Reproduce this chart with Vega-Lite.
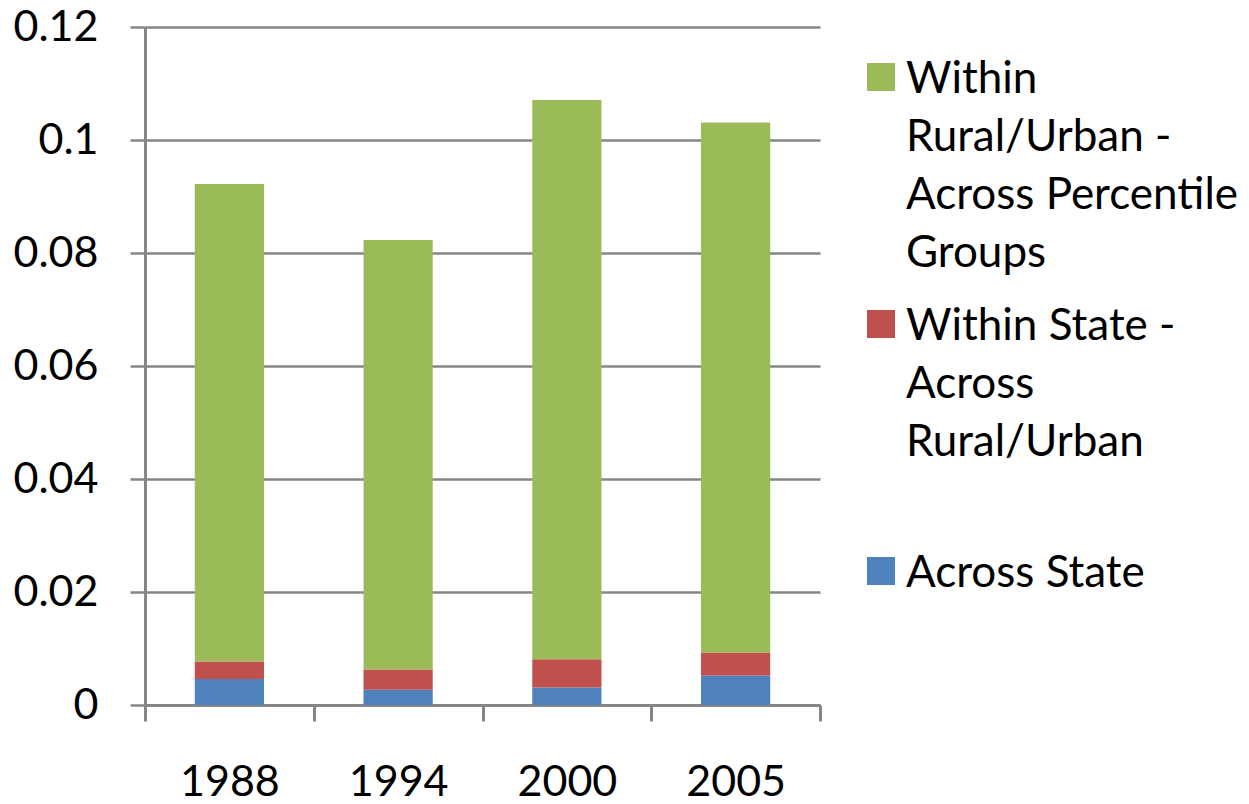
{
  "$schema": "https://vega.github.io/schema/vega-lite/v6.json",
  "width": 675,
  "height": 678,
  "autosize": {"type": "none"},
  "padding": {"left": 145, "top": 27, "right": 429, "bottom": 99},
  "background": "white",
  "config": {
    "view": {"stroke": null},
    "font": "Lato",
    "style": {"guide-label": {"lineHeight": 58}}
  },
  "data": {
    "values": [
      {"year": "1988", "series": "Across State", "k": 1, "value": 0.0046},
      {"year": "1988", "series": "Within State - Across Rural/Urban", "k": 2, "value": 0.0031},
      {"year": "1988", "series": "Within Rural/Urban - Across Percentile Groups", "k": 3, "value": 0.0845},
      {"year": "1994", "series": "Across State", "k": 1, "value": 0.0027},
      {"year": "1994", "series": "Within State - Across Rural/Urban", "k": 2, "value": 0.0036},
      {"year": "1994", "series": "Within Rural/Urban - Across Percentile Groups", "k": 3, "value": 0.0760},
      {"year": "2000", "series": "Across State", "k": 1, "value": 0.0031},
      {"year": "2000", "series": "Within State - Across Rural/Urban", "k": 2, "value": 0.0050},
      {"year": "2000", "series": "Within Rural/Urban - Across Percentile Groups", "k": 3, "value": 0.0990},
      {"year": "2005", "series": "Across State", "k": 1, "value": 0.0052},
      {"year": "2005", "series": "Within State - Across Rural/Urban", "k": 2, "value": 0.0041},
      {"year": "2005", "series": "Within Rural/Urban - Across Percentile Groups", "k": 3, "value": 0.0938}
    ]
  },
  "mark": {"type": "bar", "width": {"band": 0.41}},
  "encoding": {
    "x": {
      "field": "year",
      "type": "ordinal",
      "scale": {"paddingInner": 0, "paddingOuter": 0},
      "axis": {
        "title": null,
        "labelAngle": 0,
        "tickBand": "extent",
        "tickSize": 16,
        "tickWidth": 3,
        "tickColor": "#868686",
        "domainColor": "#868686",
        "domainWidth": 3,
        "labelFontSize": 43,
        "labelColor": "black",
        "labelPadding": 40
      }
    },
    "y": {
      "field": "value",
      "type": "quantitative",
      "stack": "zero",
      "scale": {"domain": [0, 0.12], "nice": false},
      "axis": {
        "title": null,
        "values": [0, 0.02, 0.04, 0.06, 0.08, 0.1, 0.12],
        "format": ".2~f",
        "grid": true,
        "gridColor": "#868686",
        "gridWidth": 2.5,
        "tickSize": 15,
        "tickWidth": 2.5,
        "tickColor": "#868686",
        "domainColor": "#868686",
        "domainWidth": 3,
        "labelFontSize": 43,
        "labelColor": "black",
        "labelPadding": 32
      }
    },
    "color": {
      "field": "series",
      "type": "nominal",
      "scale": {
        "domain": [
          "Within Rural/Urban - Across Percentile Groups",
          "Within State - Across Rural/Urban",
          "Across State"
        ],
        "range": ["#9BBB59", "#C0504D", "#4F81BD"]
      },
      "legend": {
        "title": null,
        "orient": "none",
        "legendX": 714,
        "legendY": 28,
        "padding": 0,
        "symbolType": "square",
        "symbolSize": 784,
        "symbolStrokeWidth": 0,
        "symbolOpacity": 1,
        "labelFontSize": 44,
        "labelColor": "black",
        "labelLimit": 400,
        "labelOffset": 3,
        "labelBaseline": "top",
        "rowPadding": 26,
        "encode": {"labels": {"update": {"dy": {"value": -19}}}},
        "labelExpr": "datum.value == 'Within Rural/Urban - Across Percentile Groups' ? ['Within', 'Rural/Urban -', 'Across Percentile', 'Groups'] : datum.value == 'Within State - Across Rural/Urban' ? ['Within State -', 'Across', 'Rural/Urban', ''] : ['Across State', '', '', '']"
      }
    },
    "order": {"field": "k", "type": "quantitative"}
  }
}
